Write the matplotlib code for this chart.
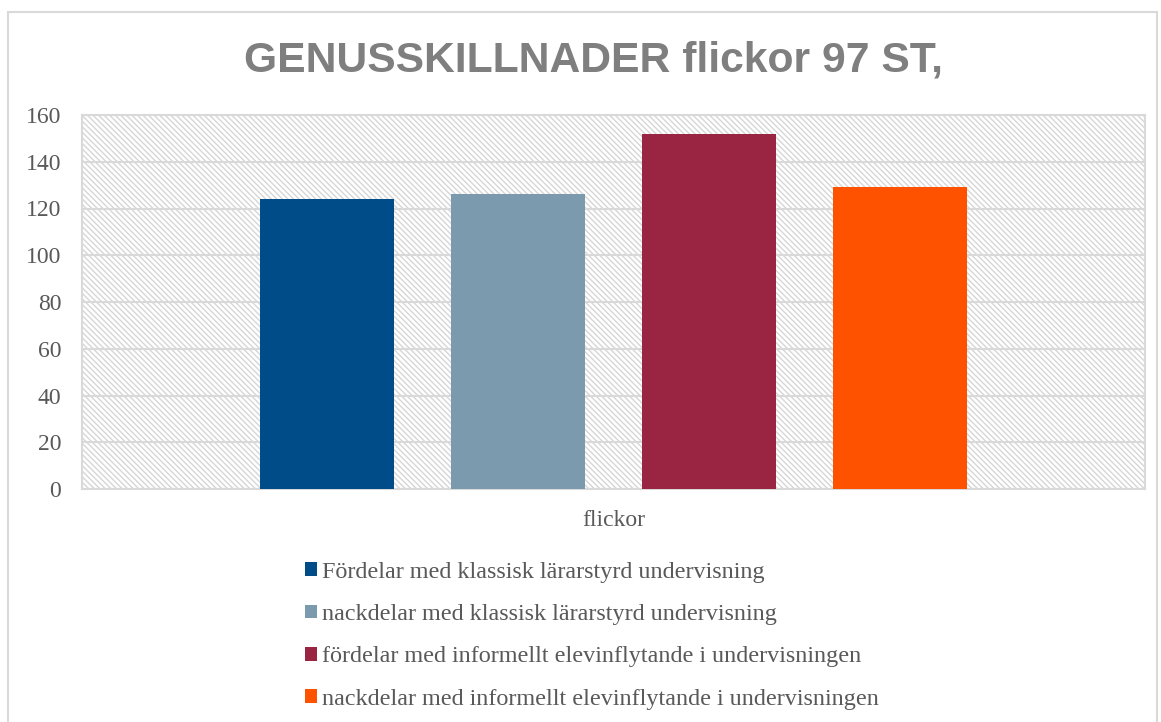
import matplotlib
matplotlib.use("Agg")
import matplotlib.pyplot as plt
from matplotlib.patches import Rectangle

categories = ["flickor"]
series_names = [
    "Fördelar med klassisk lärarstyrd undervisning",
    "nackdelar med klassisk lärarstyrd undervisning",
    "fördelar med informellt elevinflytande i undervisningen",
    "nackdelar med informellt elevinflytande i undervisningen",
]
values = [124, 126, 152, 129]
colors = ["#004C88", "#7B9AAE", "#9A2543", "#FF5200"]
yticks = [0, 20, 40, 60, 80, 100, 120, 140, 160]
title = "GENUSSKILLNADER flickor 97 ST,"

W, H = 1161, 722
fig = plt.figure(figsize=(W / 100, H / 100), dpi=100)

# outer chart border
fig.patches.append(Rectangle((8 / W, -0.01), (1157 - 8) / W, 1 - 12 / H + 0.01,
                             transform=fig.transFigure, fill=False,
                             edgecolor="#d9d9d9", linewidth=1.5))

ax = fig.add_axes([82 / W, 1 - 489 / H, (1145 - 82) / W, (489 - 115) / H])
plt.rcParams['hatch.linewidth'] = 1.0

bg = Rectangle((0, 0), 1, 1, transform=ax.transAxes, facecolor="white",
               edgecolor="#d6d6d6", hatch="\\\\\\\\\\\\", linewidth=0, zorder=0)
ax.add_patch(bg)

offsets = [-0.2695, -0.0898, 0.0898, 0.2695]
width = 0.126
for i, (name, v, c) in enumerate(zip(series_names, values, colors)):
    ax.bar(offsets[i], v, width=width, color=c, label=name, zorder=3)

ax.set_xlim(-0.5, 0.5)
ax.set_ylim(0, 160)
ax.set_yticks(yticks)
ax.set_xticks([0])
ax.set_xticklabels(categories)
ax.yaxis.grid(True, color="#d9d9d9", linewidth=1.5, zorder=1)
ax.set_axisbelow(True)
for s in ax.spines.values():
    s.set_color("#d9d9d9")
    s.set_linewidth(1.5)
ax.tick_params(length=0, labelsize=17, labelcolor="#595959")
ax.tick_params(axis="y", pad=15)
ax.tick_params(axis="x", pad=15)
for lbl in ax.get_yticklabels() + ax.get_xticklabels():
    lbl.set_family("Liberation Serif")

fig.text(593 / W, 1 - 60 / H, title, ha="center", va="center",
         fontsize=30.7, fontweight="bold", color="#7f7f7f",
         family="Liberation Sans")

leg = fig.legend(loc="upper left", bbox_to_anchor=(283 / W, 1 - 540 / H),
                 frameon=False, prop={"family": "Liberation Serif", "size": 17.4},
                 handlelength=0.5, handleheight=0.5, handletextpad=0.2,
                 labelspacing=0.88, labelcolor="#595959")

fig.savefig("out.png", dpi=100, facecolor="white")
